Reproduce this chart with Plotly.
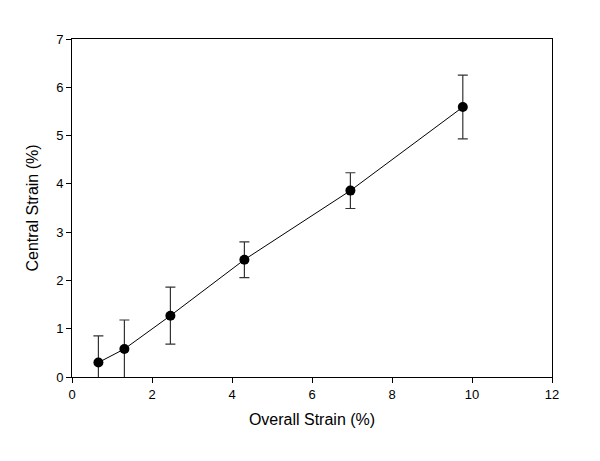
import plotly.graph_objects as go

# data
overall_strain = [0.66, 1.31, 2.46, 4.31, 6.96, 9.77]
central_strain = [0.30, 0.58, 1.27, 2.43, 3.86, 5.59]
strain_sd = [0.55, 0.60, 0.59, 0.37, 0.37, 0.66]

fig = go.Figure()

fig.add_trace(go.Scatter(
    x=overall_strain,
    y=central_strain,
    mode='lines+markers',
    line=dict(color='black', width=1),
    marker=dict(color='black', size=10),
    error_y=dict(type='data', array=strain_sd, visible=True,
                 color='#333333', thickness=1.2, width=5),
    showlegend=False,
))

axis_style = dict(
    showgrid=False,
    zeroline=False,
    showline=True,
    linecolor='black',
    linewidth=1,
    mirror=True,
    ticks='outside',
    ticklen=5,
    tickcolor='black',
    tickfont=dict(family='Liberation Sans, Arial', size=13, color='black'),
)

fig.update_xaxes(axis_style, range=[0, 12], dtick=2,
                 title=dict(text='Overall Strain (%)', standoff=13,
                            font=dict(family='Liberation Sans, Arial', size=16, color='black')))
fig.update_yaxes(axis_style, range=[0, 7], dtick=1,
                 title=dict(text='Central Strain (%)', standoff=13,
                            font=dict(family='Liberation Sans, Arial', size=16, color='black')))

# page body adds 8px offset, so margins are shifted to compensate
fig.update_layout(
    width=600,
    height=461,
    plot_bgcolor='white',
    paper_bgcolor='white',
    margin=dict(l=64, r=56, t=31, b=92),
)

fig.write_html("out.html")
